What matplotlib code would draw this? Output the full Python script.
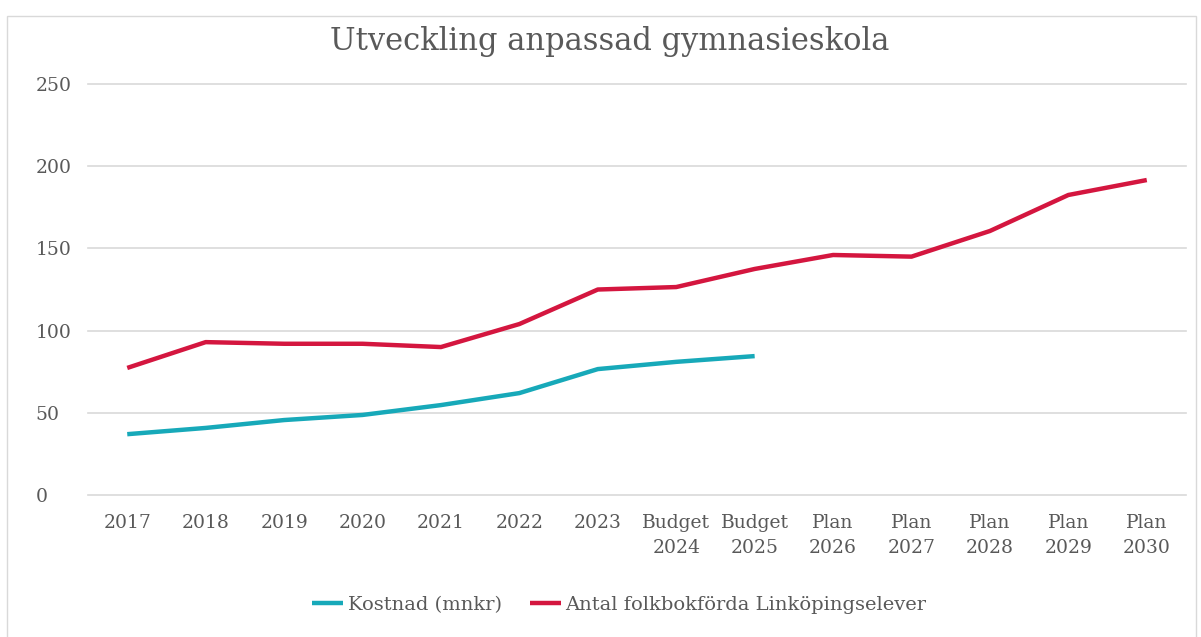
import matplotlib.pyplot as plt
from matplotlib.patches import Rectangle

kategorier = ['2017', '2018', '2019', '2020', '2021', '2022', '2023',
              'Budget\n2024', 'Budget\n2025', 'Plan\n2026', 'Plan\n2027',
              'Plan\n2028', 'Plan\n2029', 'Plan\n2030']
kostnad = [37, 40.8, 45.6, 48.7, 54.7, 62, 76.6, 81, 84.5]
elever = [77.3, 93, 92, 92, 90, 104, 125, 126.5, 137.5, 146, 145, 160.6, 182.5, 191.6]

plt.rcParams['font.family'] = ['DejaVu Serif']
grey = '#595959'

fig = plt.figure(figsize=(12.01, 6.37), dpi=100)
fig.patches.append(Rectangle((0.006, -0.01), 0.99, 0.985, transform=fig.transFigure,
                             fill=False, edgecolor='#d9d9d9', linewidth=1))
ax = fig.add_axes([0.0733, 0.2229, 0.9142, 0.6452])

ax.plot(range(len(kostnad)), kostnad, color='#17a9b9', linewidth=3.2,
        solid_capstyle='butt', label='Kostnad (mnkr)')
ax.plot(range(len(elever)), elever, color='#d4163f', linewidth=3.2,
        solid_capstyle='butt', label='Antal folkbokförda Linköpingselever')

ax.set_xlim(-0.5, len(kategorier) - 0.5)
ax.set_ylim(0, 250)
ax.set_yticks(range(0, 251, 50))
ax.set_xticks(range(len(kategorier)))
ax.set_xticklabels(kategorier, linespacing=1.45)
ax.yaxis.grid(True, color='#d9d9d9', linewidth=1.2)
for gl in ax.get_ygridlines():
    gl.set_clip_on(False)
ax.set_axisbelow(True)
for s in ax.spines.values():
    s.set_visible(False)
ax.tick_params(axis='both', length=0, colors=grey, labelsize=13.5)
ax.tick_params(axis='x', pad=14)
ax.tick_params(axis='y', pad=38)
for t in ax.get_yticklabels():
    t.set_horizontalalignment('left')

fig.text(0.508, 0.935, 'Utveckling anpassad gymnasieskola', ha='center', va='center',
         fontsize=22, color=grey)
leg = ax.legend(loc='center', bbox_to_anchor=(0.484, -0.268), ncol=2, frameon=False,
                fontsize=14, handlelength=1.6, handletextpad=0.25, columnspacing=1.4)
for t in leg.get_texts():
    t.set_color(grey)

fig.savefig('out.png', dpi=100)
